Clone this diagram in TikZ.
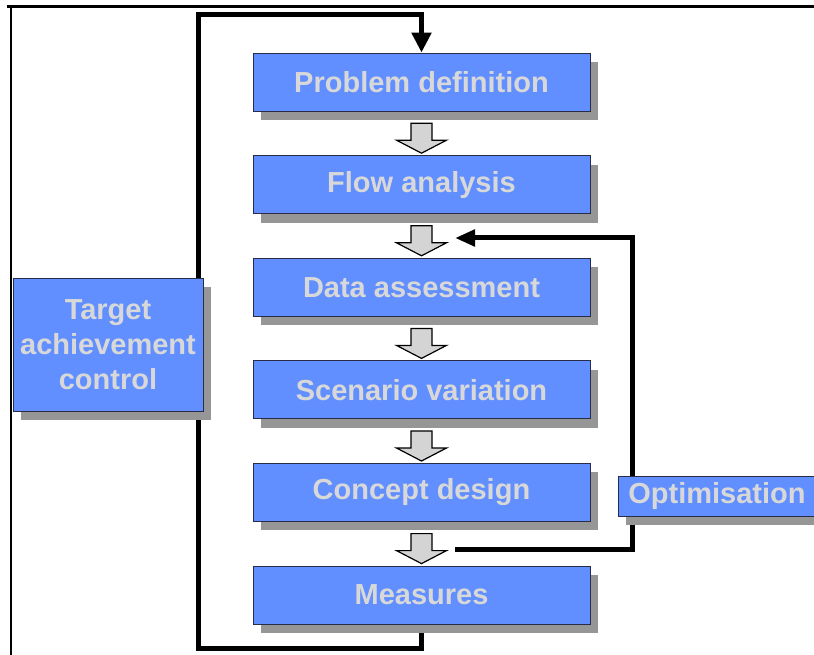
\documentclass[tikz,border=0pt]{standalone}
\usepackage{fontspec}
\setmainfont{Liberation Sans}
\usetikzlibrary{positioning,shadows,arrows.meta,backgrounds}

\definecolor{boxblue}{RGB}{97,143,255}
\definecolor{boxline}{RGB}{40,44,70}
\definecolor{shadowgray}{RGB}{150,150,150}
\definecolor{textgray}{RGB}{216,216,216}
\definecolor{arrowgray}{RGB}{212,212,212}

\tikzset{
    stage/.style={draw=boxline, fill=boxblue, line width=0.8pt, text=textgray,
        font=\fontsize{29}{35}\selectfont\bfseries, align=center,
        minimum width=337pt, minimum height=58pt, inner sep=0pt,
        drop shadow={shadow xshift=8pt, shadow yshift=-9pt, fill=shadowgray, opacity=1}},
    hollow/.style={draw=black, fill=arrowgray, line width=1.2pt, line join=miter},
    loopline/.style={line width=5pt},
}

\begin{document}
\begin{tikzpicture}[x=1pt, y=-1pt]
    \useasboundingbox (0,0) rectangle (814,655);

    % frame
    \draw[line width=3pt] (7,7) -- (814,7);
    \draw[line width=1.8pt] (11,7) -- (11,655);

    % stages
    \node[stage] (prob) at (421.5,82) {Problem definition};
    \node[stage, below=43.8pt of prob] (flow) {Flow analysis};
    \node[stage, below=43.8pt of flow] (data) {Data assessment};
    \node[stage, below=43.8pt of data] (scen) {Scenario variation};
    \node[stage, below=43.8pt of scen] (conc) {Concept design};
    \node[stage, below=43.8pt of conc] (meas) {Measures};

    \node[stage, minimum width=190pt, minimum height=133pt] (target) at (108,344.5) {Target\\achievement\\control};
    \node[stage, minimum width=198pt, minimum height=40pt] (opt) at (717,496) {Optimisation};

    % hollow arrows
    \foreach \b in {flow, data, scen, conc, meas}
        \draw[hollow] ([yshift=2pt]\b.north) -- ++(-25,-13) -- ++(14.5,0) -- ++(0,-17)
            -- ++(21,0) -- ++(0,17) -- ++(14.5,0) -- cycle;

    % loops
    \coordinate (lb) at (198,648);
    \coordinate (lt) at (198,15);
    \coordinate (optout) at (455,549);
    \coordinate (optturn) at (632,238);
    \coordinate (optin) at (455,238);

    \begin{scope}[on background layer]
        \draw[loopline, -{Triangle[width=19pt,length=20pt]}] (meas.south) |- (lb) |- (lt) -| (prob.north);
        \draw[loopline, -{Triangle[width=16pt,length=20pt]}] (optout) -| (optturn) -- (optin);
    \end{scope}
\end{tikzpicture}
\end{document}
